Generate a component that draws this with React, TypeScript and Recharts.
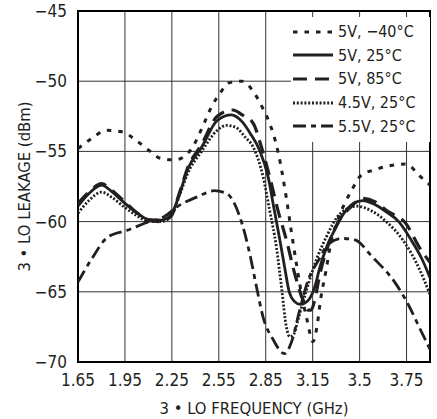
import React from "react";
import {LineChart, Line, XAxis, YAxis, CartesianGrid, ReferenceArea, Label} from "recharts";

const FONT = "'DejaVu Sans Condensed', 'Liberation Sans', sans-serif";
const INK = "#231f20";

// x axis ticks (evenly spaced, printed labels as on the original)
const freqTicks = [1.65, 1.95, 2.25, 2.55, 2.85, 3.15, 3.45, 3.75];
const freqTickLabels = ["1.65", "1.95", "2.25", "2.55", "2.85", "3.15", "3.5", "3.75"];
const leakTicks = [-70, -65, -60, -55, -50, -45];

// 5V, -40°C
const freqA = [1.65, 1.735, 1.83, 1.93, 2.02, 2.1, 2.18, 2.27, 2.37, 2.46, 2.5, 2.555, 2.62, 2.7, 2.78, 2.83, 2.875, 2.93, 2.98, 3.015, 3.046, 3.078, 3.114, 3.152, 3.18, 3.2, 3.235, 3.27, 3.31, 3.4, 3.46, 3.55, 3.65, 3.75, 3.83, 3.9];
const leakA = [-54.8, -54.1, -53.5, -53.6, -54.2, -54.9, -55.5, -55.6, -54.9, -52.9, -51.9, -50.9, -50.1, -50.0, -50.9, -51.9, -53.0, -55.1, -58.2, -60.8, -63.0, -65.1, -67.0, -68.55, -67.3, -65.6, -63.5, -61.3, -59.9, -57.75, -56.7, -56.3, -56.0, -55.9, -56.7, -57.4];

// 5V, 25°C
const freqB = [1.65, 1.72, 1.8, 1.87, 1.95, 2.03, 2.1, 2.18, 2.245, 2.3, 2.35, 2.44, 2.54, 2.63, 2.7, 2.75, 2.81, 2.865, 2.905, 2.94, 2.97, 3.0, 3.035, 3.07, 3.1, 3.13, 3.165, 3.195, 3.24, 3.29, 3.35, 3.41, 3.47, 3.55, 3.62, 3.7, 3.79, 3.85, 3.9];
const leakB = [-58.9, -58.0, -57.4, -57.9, -58.7, -59.4, -59.85, -59.9, -59.5, -58.0, -56.3, -54.7, -52.8, -52.4, -52.9, -53.7, -54.9, -56.8, -59.2, -61.3, -63.2, -65.0, -65.7, -65.9, -65.8, -65.5, -64.6, -63.3, -61.8, -60.6, -59.4, -58.7, -58.5, -58.8, -59.3, -60.0, -61.5, -62.7, -64.0];

// 5V, 85°C
const freqC = [1.65, 1.72, 1.8, 1.87, 1.95, 2.03, 2.1, 2.18, 2.245, 2.3, 2.35, 2.44, 2.54, 2.64, 2.7, 2.77, 2.82, 2.875, 2.928, 2.982, 3.035, 3.088, 3.12, 3.14, 3.165, 3.193, 3.246, 3.31, 3.39, 3.47, 3.55, 3.62, 3.75, 3.83, 3.9];
const leakC = [-58.7, -57.9, -57.3, -57.8, -58.6, -59.4, -59.9, -60.0, -59.6, -57.9, -56.2, -54.5, -52.5, -52.05, -52.4, -53.0, -54.6, -56.8, -59.2, -61.3, -63.7, -65.6, -66.3, -66.3, -65.5, -63.9, -61.8, -60.1, -59.0, -58.35, -58.6, -59.2, -60.2, -61.8, -62.9];

// 4.5V, 25°C
const freqD = [1.65, 1.72, 1.8, 1.87, 1.95, 2.03, 2.1, 2.18, 2.245, 2.3, 2.35, 2.44, 2.54, 2.6, 2.66, 2.72, 2.77, 2.833, 2.875, 2.918, 2.95, 2.982, 3.003, 3.03, 3.056, 3.11, 3.174, 3.237, 3.32, 3.43, 3.52, 3.62, 3.726, 3.833, 3.9];
const leakD = [-59.4, -58.5, -57.9, -58.3, -59.0, -59.6, -60.0, -60.0, -59.6, -58.1, -56.6, -55.0, -53.5, -53.15, -53.3, -54.0, -54.7, -56.8, -59.2, -61.8, -64.6, -67.5, -68.2, -68.0, -67.0, -64.9, -62.7, -61.1, -59.5, -58.9, -59.2, -60.0, -61.3, -63.4, -65.2];

// 5.5V, 25°C
const freqE = [1.65, 1.735, 1.84, 1.97, 2.08, 2.2, 2.29, 2.42, 2.52, 2.6, 2.684, 2.748, 2.79, 2.833, 2.897, 2.97, 3.014, 3.067, 3.12, 3.19, 3.25, 3.34, 3.42, 3.53, 3.68, 3.77, 3.83, 3.9];
const leakE = [-64.3, -62.7, -61.1, -60.6, -60.1, -59.65, -58.9, -58.2, -57.8, -58.0, -59.65, -62.3, -64.6, -66.8, -68.4, -69.4, -68.6, -66.3, -64.2, -62.7, -61.6, -61.2, -61.3, -62.5, -64.4, -66.1, -67.5, -69.1];

const toPoints = (f: number[], v: number[]) => f.map((x, i) => ({freq: x, leak: v[i]}));

const series = [
    {name: "5V, \u221240\u00b0C", data: toPoints(freqA, leakA), dash: "4.5 7", width: 3},
    {name: "5V, 25\u00b0C", data: toPoints(freqB, leakB), dash: undefined, width: 2.8},
    {name: "5V, 85\u00b0C", data: toPoints(freqC, leakC), dash: "14 8", width: 3.2},
    {name: "4.5V, 25\u00b0C", data: toPoints(freqD, leakD), dash: "2 1.8", width: 2.8},
    {name: "5.5V, 25\u00b0C", data: toPoints(freqE, leakE), dash: "13 5 5 5", width: 2.8},
]

const LegendBox = () => <div style={{
    position: "absolute", left: 291, top: 17, width: 137, background: "#fff",
    padding: "3px 0 4px 2px", fontFamily: FONT, fontSize: 16, color: INK
}}>
    {series.map(s => <div key={s.name} style={{display: "flex", alignItems: "center", height: 23.6}}>
        <svg width={42} height={10} style={{marginRight: 3}}>
            <line x1={0} y1={5} x2={40} y2={5} stroke={INK} strokeWidth={s.width} strokeDasharray={s.dash}/>
        </svg>
        <span>{s.name}</span>
    </div>)}
</div>

export default function App() {
    return <div style={{position: "absolute", left: 0, top: 0, width: 437, height: 419}}>
        <LineChart width={437} height={419} margin={{top: 11, right: 7, bottom: 0, left: 0}}>
            <CartesianGrid stroke="#333" strokeWidth={1}/>
            <XAxis type="number" dataKey="freq" domain={[1.65, 3.9]} ticks={freqTicks} allowDataOverflow
                   tickFormatter={(v: number) => freqTickLabels[freqTicks.indexOf(v)] ?? String(v)}
                   axisLine={false} tickLine={false} tickSize={0} tickMargin={12} height={57}
                   tick={{fill: INK, fontSize: 17, fontFamily: FONT}}>
                <Label content={(p: any) => <text x={p.viewBox.x + p.viewBox.width / 2} y={p.viewBox.y + 46}
                                                  textAnchor="middle" dominantBaseline="central"
                                                  fill={INK} fontSize={16.5} fontFamily={FONT}>3 • LO FREQUENCY (GHz)</text>}/>
            </XAxis>
            <YAxis type="number" domain={[-70, -45]} ticks={leakTicks} allowDataOverflow width={78}
                   tickFormatter={(v: number) => String(v).replace("-", "\u2212")}
                   axisLine={false} tickLine={false} tickSize={0} tickMargin={11}
                   tick={{fill: INK, fontSize: 17, fontFamily: FONT}}>
                <Label content={(p: any) => {
                    const cx = p.viewBox.x + 24
                    const cy = p.viewBox.y + p.viewBox.height / 2
                    return <text x={cx} y={cy} transform={`rotate(-90 ${cx} ${cy})`} textAnchor="middle"
                                 dominantBaseline="central" fill={INK} fontSize={16.5} fontFamily={FONT}>3 • LO LEAKAGE (dBm)</text>
                }}/>
            </YAxis>
            <ReferenceArea x1={1.65} x2={3.9} y1={-70} y2={-45} fill="none" stroke="#000" strokeWidth={2} ifOverflow="visible"/>
            {series.map(s => <Line key={s.name} name={s.name} data={s.data} dataKey="leak" type="monotone"
                                   stroke={INK} strokeWidth={s.width} strokeDasharray={s.dash}
                                   dot={false} activeDot={false} isAnimationActive={false}/>)}
        </LineChart>
        <LegendBox/>
    </div>
}
